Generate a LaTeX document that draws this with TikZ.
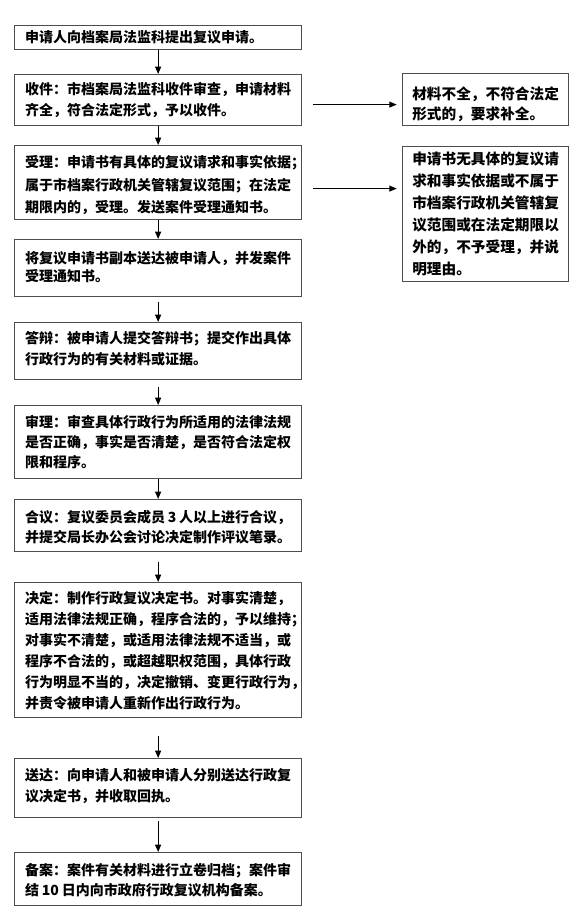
\documentclass[tikz,border=0pt]{standalone}
\usepackage{fontspec}
\newfontfamily\cjk{Noto Sans CJK SC}
\usetikzlibrary{arrows.meta}
\newcommand{\stepfont}[1]{\cjk\bfseries\fontsize{10.5pt}{#1}\selectfont}
\newcommand{\sidefont}[1]{\cjk\bfseries\fontsize{11pt}{#1}\selectfont}
\newcommand{\tailp}[1]{\rlap{#1}}
\newcommand{\numsp}[1]{\nobreak\hspace{.2em}#1\nobreak\hspace{.2em}\nobreak}
\tikzset{
  stepbox/.style={draw=black!70,line width=0.9pt,anchor=north west,align=left,
    text width=199.5pt,inner xsep=7.9pt,inner ysep=0pt,font=\stepfont{15.75pt}},
  sidebox/.style={stepbox,text width=110pt,inner xsep=7.25pt,font=\sidefont{15pt}},
  ar/.style={-{Triangle[length=5.5pt,width=4.5pt]},line width=0.75pt},
}
\begin{document}
\begin{tikzpicture}[x=0.75pt,y=-0.75pt]
  \useasboundingbox (0,0) rectangle (579,922);
  % main column
  \node[stepbox,text height=13pt,text depth=5pt] (apply) at (14,25) {申请人向档案局法监科提出复议申请。};
  \node[stepbox,text height=15.2pt,text depth=23pt] (accept) at (14,74)
    {收件：市档案局法监科收件审查，申请材料\\齐全，符合法定形式，予以收件。};
  \node[stepbox,font=\stepfont{16.9pt},text height=16.7pt,text depth=38.8pt] (admit) at (14,145)
    {受理：申请书有具体的复议请求和事实依据\tailp{；}\\属于市档案行政机关管辖复议范围；在法定\\期限内的，受理。发送案件受理通知书。};
  \node[stepbox,font=\stepfont{13.5pt},text height=18.2pt,text depth=24.5pt] (copy) at (14,239)
    {将复议申请书副本送达被申请人，并发案件\\受理通知书。};
  \node[stepbox,text height=16pt,text depth=26.75pt] (reply) at (14,322)
    {答辩：被申请人提交答辩书；提交作出具体\\行政行为的有关材料或证据。};
  \node[stepbox,font=\stepfont{15pt},text height=16.7pt,text depth=38pt] (review) at (14,405)
    {审理：审查具体行政行为所适用的法律法规\\是否正确，事实是否清楚，是否符合法定权\\限和程序。};
  \node[stepbox,font=\stepfont{15pt},text height=17.5pt,text depth=21.5pt] (confer) at (14,499)
    {合议：复议委员会成员\numsp{3}人以上进行合议\tailp{，}\\并提交局长办公会讨论决定制作评议笔录。};
  \node[stepbox,text height=16pt,text depth=85.25pt] (decide) at (14,582)
    {决定：制作行政复议决定书。对事实清楚，\\适用法律法规正确，程序合法的，予以维持\tailp{；}\\对事实不清楚，或适用法律法规不适当，或\\程序不合法的，或超越职权范围，具体行政\\行为明显不当的，决定撤销、变更行政行为\tailp{，}\\并责令被申请人重新作出行政行为。};
  \node[stepbox,text height=16.7pt,text depth=27.5pt] (deliver) at (14,758)
    {送达：向申请人和被申请人分别送达行政复\\议决定书，并收取回执。};
  \node[stepbox,font=\stepfont{15pt},text height=17.5pt,text depth=22.25pt] (file) at (14,852)
    {备案：案件有关材料进行立卷归档；案件审\\结\numsp{10}日内向市政府行政复议机构备案。};
  % side boxes
  \node[sidebox,text height=19.2pt,text depth=19.8pt] (supply) at (402,73)
    {材料不全，不符合法定\\形式的，要求补全。};
  \node[sidebox,font=\sidefont{16.5pt},text height=13.5pt,text depth=87.75pt] (reject) at (402,146)
    {申请书无具体的复议请\\求和事实依据或不属于\\市档案行政机关管辖复\\议范围或在法定期限以\\外的，不予受理，并说\\明理由。};
  % arrows
  \draw[ar] (apply.south) -- (accept.north);
  \draw[ar] (accept.south) -- (admit.north);
  \draw[ar] (admit.south) -- (copy.north);
  \draw[ar,shorten <=4pt] (copy.south) -- (reply.north);
  \draw[ar,shorten <=5pt] (reply.south) -- (review.north);
  \draw[ar] (review.south) -- (confer.north);
  \draw[ar,shorten <=7pt] (confer.south) -- (decide.north);
  \draw[ar,shorten <=13pt] (decide.south) -- (deliver.north);
  \draw[ar,shorten <=2pt] (deliver.south) -- (file.north);
  \draw[ar,shorten <=8pt,shorten >=4pt] ([yshift=-3.4pt]accept.east) -- ([yshift=-3.4pt]accept.east -| supply.west);
  \draw[ar,shorten <=8pt,shorten >=4pt] ([yshift=-4.5pt]admit.east) -- ([yshift=-4.5pt]admit.east -| reject.west);
\end{tikzpicture}
\end{document}
